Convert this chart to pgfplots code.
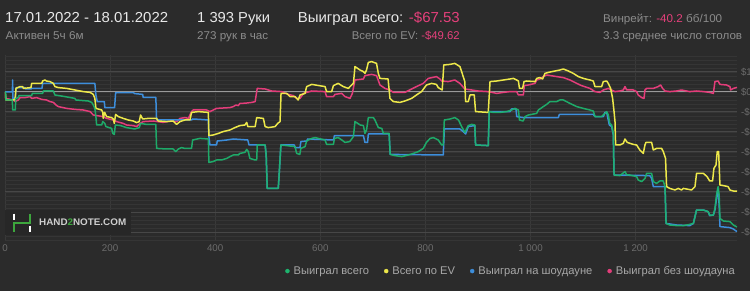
\documentclass[border=0pt]{standalone}
\usepackage{fontspec}
\setmainfont{Liberation Sans}
\usepackage{graphicx}
\usepackage{pgfplots}
\usepackage{pgfplotstable}
\pgfplotsset{compat=1.18}
\definecolor{bg}{HTML}{2B2B2B}
\definecolor{gmaj}{HTML}{474747}
\definecolor{gmin}{HTML}{353535}
\definecolor{gvert}{HTML}{393939}
\definecolor{zline}{HTML}{9A9A9A}
\definecolor{cgreen}{HTML}{1DB46E}
\definecolor{cyellow}{HTML}{EDE84A}
\definecolor{cblue}{HTML}{3D8EDB}
\definecolor{cpink}{HTML}{E33D7A}
\definecolor{ttl}{HTML}{E8E8E8}
\definecolor{sub}{HTML}{8C8C8C}
\definecolor{pinkt}{HTML}{E5407B}
\definecolor{tick}{HTML}{6C6C6C}
\definecolor{leg}{HTML}{A8A8A8}
\definecolor{logobox}{HTML}{272727}
\definecolor{logotxt}{HTML}{CFCFCF}
\definecolor{logogreen}{HTML}{3DA63D}

\pgfplotstableread{
x y
0 0
1.3 -0.2
1.9 -4
14 -4
14.6 -9
19.7 -9
20.3 -3.2
25.4 -2.8
26.6 -1.8
50.7 -1.8
52 -0.7
71.7 -0.7
73 0.5
92 0.5
95 -1.5
114 -2.3
133 -3.2
135 -4
158.5 -4.5
165 -5.2
168 -6.5
171 -8.2
173 -12.3
174.4 -16.5
184 -16.5
186 -14.8
190 -15.7
192 -17.3
203 -18.2
205 -20.7
208 -21.2
210 -16.5
220 -16.8
231 -17.8
247 -18.5
255.5 -17.8
258 -15.7
269 -16.2
287 -16.2
288.5 -28.2
307.5 -28.5
320 -28.5
325 -29.8
330 -28.5
336 -27.8
342 -28.2
355 -28.2
357 -24
371 -23.2
387 -23.5
388 -35.2
396 -34.8
402.6 -34
412 -34
422 -33.2
428 -32.3
434.5 -31.5
444 -31.5
447 -30.7
456.5 -30.2
460 -28.7
463 -29.8
466 -33.2
476 -34
479 -34
480 -26.5
495 -26.5
497 -31.5
499 -48.2
520 -48.2
521.5 -42.3
525 -26.5
552 -27.3
555 -30.7
561 -31.2
563 -28.2
571 -27.3
574 -24.5
583.6 -23.2
590 -22.8
609 -24
612 -26.2
625 -26.2
627 -23.2
634 -22.8
641 -24
647 -25.2
656 -24.8
663 -22.3
666 -14.8
676 -16.5
682 -16.8
685 -20.7
688 -19
691.4 -12.8
701 -12.8
704 -14
710.4 -17.8
717 -18.2
720 -20.7
731 -20.7
733 -31.2
742 -31.8
755 -32.3
767.5 -31.5
777 -30.7
786.5 -29.8
796 -28.2
802 -25.2
809 -23.2
815 -22.8
824.5 -24
831 -26.5
834 -26.5
836 -14
847 -13.5
856 -12.8
863 -14
869 -17.3
875 -20.2
881.6 -16.8
888 -16.2
894 -16.5
895.5 -26.5
919.6 -26.8
921.5 -9.8
929 -10.2
942 -10.2
954.7 -9.8
964 -9
970.5 -8.2
977 -9
979 -14
986 -14.5
989.6 -12.3
996 -11.5
1011.8 -10.7
1015 -9
1024.4 -7.3
1030.8 -6.2
1037 -4.8
1049.8 -4.8
1056 -4
1062.5 -4
1075 -5.7
1088 -7.3
1100.5 -8.2
1113 -9
1119.5 -9.5
1122.7 -12.3
1135 -12.3
1141.7 -10.7
1145 -9.8
1148 -11.5
1151 -15.7
1154.4 -16.5
1157.6 -20.7
1159 -41.5
1170 -41.8
1180 -39.8
1183 -41.5
1189 -41.5
1202 -42.3
1205 -44
1211.5 -44.8
1218 -43.2
1221 -40.7
1230.5 -40.7
1233.7 -44.8
1240 -45.7
1246 -44.5
1252.7 -44.5
1256 -47.3
1258 -65.7
1265 -66.5
1278 -66.8
1291 -66.8
1303 -66.2
1310 -65.7
1316 -59
1329 -59
1338 -59.8
1341 -61.5
1348 -61.5
1351 -58.2
1354 -51.5
1357 -47.3
1359 -51.5
1360.5 -63.2
1367 -64.5
1379.5 -64.8
1386 -66.5
1393 -67.53
}\greentab

\pgfplotstableread{
x y
0 0
1.9 -4
19 -4
21 1.8
28.5 2.7
33.6 2.7
35 1.8
49.5 2.2
50.7 4.3
69.8 4.3
71.7 5.5
76 6
79 5.5
85.6 5.2
92 4.3
95 2.7
101.5 2.2
117.3 1.8
133 1
149 0.2
162 -0.2
168 -1.2
171 -3.2
173 -8.2
184 -9
186 -10.2
187 -13.2
189.6 -10.2
193.4 -12.3
203 -12.8
206 -13.5
208 -15.7
210.5 -11.2
215.6 -12.3
225 -13.2
234.6 -14
244 -14.5
250.4 -15.3
255.5 -14.8
258 -11.5
262 -13.5
272.6 -13.2
288.5 -13.2
291.6 -14.5
307.5 -14.8
320 -14.5
326.5 -16.2
333 -14.8
342.4 -14
352 -14
355 -10.2
368 -9.8
387 -10.2
388 -21.8
396 -21.5
406 -20.7
415 -19.8
428 -19
437.5 -17.8
447 -16.8
456.5 -16.5
460 -15.2
462 -17.3
476 -17.3
479 -12.8
491.7 -13.2
495 -17.3
501 -17.8
514 -17.3
519 -15.7
523.4 -14.8
525.3 -0.7
536 -0.7
542.4 -2.3
552 -2.3
558 -4
561.4 -1.5
571 -0.7
574 2.7
583.6 3.8
609 2.7
612 0.2
621.6 0.2
625 3.2
634 4.3
643.8 2.7
653.4 1.8
658.4 3.2
663 4.3
666 12.7
675.5 11
682 10.2
685 9.3
688 11
691.4 14.8
697.7 15.2
707 14.3
710.4 9.3
713.6 6.8
729 6.5
732.6 -3.2
739 -4.8
751.6 -5.2
761 -4.5
773.8 -3.2
783 -1.5
792.8 0.2
802 3.5
811.8 4.3
821 3.8
824.5 2.2
832 1
835 13.5
846.7 13.8
856 14.3
865.7 12.7
870 9.3
875 5.2
876.5 -4.8
881.6 -4.8
885 -1.5
893 -1.5
895.5 -9.8
919.6 -10.2
923 5.2
935.7 5.5
948.4 6
961 6.5
967.4 6.8
973.7 6
977 5.5
979 1.8
985 1.8
987.7 5.2
992.7 5.5
1008.6 5.2
1011.8 6.8
1018 7.2
1023 6.5
1027.6 9.3
1034 9.8
1046.6 10.5
1056 11
1062.5 11.5
1072 10.5
1081.5 9.3
1091 7.7
1100.5 6.8
1113 6
1119.5 5.5
1122.7 2.7
1135.4 2.7
1138.6 5.2
1145 5.5
1148 4.3
1152.5 1.8
1156.3 -3.2
1159 -9.8
1160.8 -14.8
1162 -26.5
1170 -26.5
1176.6 -25.7
1179.8 -23.5
1184 -25.2
1195.6 -26.2
1202 -26.5
1208 -29
1214.6 -30.7
1217.8 -26.5
1219.7 -25.2
1230.5 -25.2
1233.7 -29
1240 -28.2
1249.5 -28.2
1252.7 -29.8
1257 -33.2
1259 -47.3
1265 -48.2
1275 -49
1281 -48.2
1287.5 -49
1290.7 -48.2
1297 -48.5
1306.6 -49
1313 -47.3
1316 -40.7
1329 -40.7
1336 -42.3
1341 -44.5
1346.5 -44.5
1349 -38.2
1353 -36.5
1355.4 -29.8
1358 -29.8
1359 -36.5
1360.5 -46.5
1367 -46.8
1376 -47.3
1379.5 -49
1386 -49.5
1393 -49.62
}\yellowtab

\pgfplotstableread{
x y
0 0
14 0
14.6 6
15 -3.2
19.7 -3.2
21 2.2
38 2.2
39 1.5
49.5 1.5
50.7 1.8
70.4 1.8
71.7 4.3
171 4.3
173 -1.5
175.6 -4.8
189 -4.8
190 -7.8
208.6 -7.8
210.5 -0.3
244 -0.3
247 -0.8
262 -1.2
263 -2.7
287 -2.7
288.5 -14
355 -14
357 -13.5
371 -13.7
387 -14
388 -22.3
390 -26.5
402.6 -26.5
404 -24.5
422 -24
434.5 -23.5
462 -24
464.4 -26.5
495 -26.5
497 -31.5
499 -48.2
520 -48.2
521.5 -42.3
525 -26.5
550.6 -26.5
552 -27.8
561.4 -27.8
563 -24.8
574 -24.5
576 -23.5
625 -24
627 -21.8
682 -21.8
685 -25.2
690 -25.2
691.4 -21
731 -21
733 -31.2
834 -31.5
836 -18.5
865.7 -18.5
872 -19.8
876.5 -21
881.6 -17.3
894 -16.8
895.5 -26.5
919.6 -26.8
921.5 -9.8
961 -9.8
964 -8.5
972.5 -8.5
973.7 -12.3
986.4 -12.8
1053 -12.8
1055 -11.2
1119.5 -11.2
1122.7 -12.3
1138.6 -12.3
1141.7 -10.2
1145 -10.2
1148 -14
1150 -16.5
1154.4 -17.3
1157.6 -21.5
1159 -41.5
1227 -41.8
1230.5 -43.2
1233.7 -47.3
1256 -47.3
1258 -65.7
1278 -66.5
1303 -66.8
1310 -65.7
1316 -59
1329 -59
1338 -59.8
1341 -61.8
1348 -61.5
1351 -59
1354 -53.2
1356.7 -48.2
1359 -56.5
1360.5 -67.3
1379.5 -67.8
1386 -68.5
1393 -69.8
}\bluetab

\pgfplotstableread{
x y
0 0
1.3 -3.2
16 -4
19 -4.8
25.4 -4
28.5 -2.8
38 -2.8
47.6 -2.3
50.7 -3.2
60 -2.8
70 -3.7
79 -4
85.6 -4.8
92 -5.2
97 -6.5
101.5 -7.3
117.3 -8.2
133 -8.7
149 -9
162 -9.8
168 -11.5
174.4 -11.8
187 -12.3
193.4 -13.2
206 -14
212.4 -14.8
225 -15.7
231.4 -16.5
244 -16.8
250.4 -17.3
257 -15.7
263 -14.8
282 -14.5
301 -15.2
314 -14.5
326.5 -14.8
333 -13.2
342.4 -12.8
349 -13.2
355 -9.8
358 -9
383.6 -9
390 -9.8
402.6 -8.2
428 -7.8
434.5 -7.3
439.4 -6.5
444 -6.8
447 -5.7
457 -5.6
470 -5.2
476 -4.8
480 1.8
495 1.5
507.5 0.5
526.5 0.2
539 -1.2
548.7 -1.8
555 -3.2
561.4 -3.2
568 -0.7
583.6 0.5
609 0.2
612 -2.3
625 -2.3
628 -1.2
640.7 -0.7
647 -2.3
656.5 -3.2
661 -0.7
666 6
682 6.5
685 8.2
697.7 8.8
707 8.2
713.6 3.5
723 1.8
732.6 1
739 -0.2
761 -0.2
773.8 1.5
783 2.7
796 4.3
805.5 6.8
821 7.7
827.7 6.5
831 5.5
843.5 5.2
856 6
865.7 4.3
875 1.5
888 1
900.6 0.5
919.6 0.2
935.7 -0.7
948.4 -0.2
961 0.2
973.7 0.2
977 -1.5
986.4 -1.5
988.3 3.2
996 3.5
1008.6 4.3
1011.8 6
1018 6.5
1024.4 7.7
1030.8 8.5
1049.8 7.7
1062.5 7.2
1075 6
1088 4.3
1097 3.2
1113 1.8
1122.7 0.2
1132 -0.2
1138.6 1
1148 1.8
1154.4 1
1160.8 0.2
1170 0.5
1176.6 1
1179.8 2.7
1183 1
1195.6 1
1202 0.2
1205 -1.5
1211.5 -2.8
1216 -3.2
1217.8 1
1221 1.8
1233.7 1.8
1243 2.7
1247.6 3.5
1251.4 1.8
1256 0.5
1265 0.2
1278 0.5
1287.5 1
1297 0.5
1303 0.2
1316 0.5
1329 0.2
1341 -0.2
1348 -0.7
1351 5.2
1357 5.5
1360.5 3.8
1373 3.5
1379.5 2.7
1380.7 1
1386 1.8
1393 2.3
}\pinktab

\newcommand{\ttlfont}{\fontsize{14.5}{16}\selectfont}
\newcommand{\subfont}{\fontsize{11.3}{13}\selectfont}

\begin{document}
\begin{tikzpicture}[x=1bp,y=1bp]
\path[use as bounding box] (0,0) rectangle (750,291);
\fill[bg] (0,0) rectangle (750,291);
\begin{axis}[
  at={(5bp,51bp)}, anchor=south west,
  scale only axis, width=732bp, height=185bp,
  xmin=0, xmax=1393, ymin=-74, ymax=18.5,
  axis line style={draw=none},
  major tick length=0pt, minor tick length=0pt,
  xtick={0,200,400,600,800,1000,1200},
  xticklabels={0,200,400,600,800,1 000,1 200},
  ytick={-70,-60,-50,-40,-30,-20,-10,0,10},
  yticklabels={-\$70,-\$60,-\$50,-\$40,-\$30,-\$20,-\$10,\$0,\$10},
  minor ytick={-74,-72,...,18},
  yticklabel pos=right,
  xmajorgrids, ymajorgrids, yminorgrids,
  major x grid style={gvert, line width=0.8bp},
  major y grid style={gmaj, line width=1bp},
  minor y grid style={gmin, line width=0.8bp},
  ticklabel style={font=\fontsize{9.8}{10}\selectfont, text=tick},
  xticklabel style={yshift=-1bp},
  yticklabel style={anchor=west, xshift=0.5bp},
  legend columns=4,
  legend style={draw=none, fill=none, text=leg, font=\fontsize{11.2}{12}\selectfont,
    at={(axis description cs:1.0,-0.168)}, anchor=east, inner sep=0pt,
    /tikz/every odd column/.append style={column sep=2bp},
    /tikz/every even column/.append style={column sep=13bp}},
  legend image code/.code={\fill (4bp,0bp) circle (2bp);},
  line join=round,
]
\addlegendimage{cgreen, fill=cgreen}\addlegendentry{Выиграл всего}
\addlegendimage{cyellow, fill=cyellow}\addlegendentry{Всего по EV}
\addlegendimage{cblue, fill=cblue}\addlegendentry{Выиграл на шоудауне}
\addlegendimage{cpink, fill=cpink}\addlegendentry{Выиграл без шоудауна}
\addplot[zline, line width=1bp, forget plot] coordinates {(0,0) (1393,0)};
\addplot[cpink, line width=1.5bp, forget plot] table {\pinktab};
\addplot[cblue, line width=1.5bp, forget plot] table {\bluetab};
\addplot[cyellow, line width=1.5bp, forget plot] table {\yellowtab};
\addplot[cgreen, line width=1.5bp, opacity=0.92, forget plot] table {\greentab};
\end{axis}
% logo
\fill[logobox] (5,56) rectangle (131,81);
\draw[white, line width=2.2bp] (14,77.5) -- (14,71.5);
\draw[logogreen, line width=2.2bp] (14,59.5) -- (14,68.3) -- (30,68.3) -- (30,77.5);
\draw[white, line width=2.2bp] (30,65.5) -- (30,59.5);
\node[anchor=west, inner sep=0, text=logotxt] at (39,68.3) {\resizebox{87bp}{\height}{\fontsize{9.6}{10}\selectfont\bfseries HAND{\color{logogreen}2}NOTE.COM}};
% header
\node[anchor=base west, inner sep=0, text=ttl] at (5,268.5) {\resizebox{163bp}{\height}{\ttlfont 17.01.2022 - 18.01.2022}};
\node[anchor=base west, inner sep=0, text=sub] at (5.5,251.5) {\resizebox{78bp}{\height}{\subfont Активен 5ч 6м}};
\node[anchor=base west, inner sep=0, text=ttl] at (197,268.5) {\resizebox{73bp}{\height}{\ttlfont 1 393 Руки}};
\node[anchor=base west, inner sep=0, text=sub] at (197,251.5) {\resizebox{71bp}{\height}{\subfont 273 рук в час}};
\node[anchor=base east, inner sep=0, text=ttl] at (460,268.5) {\resizebox{162bp}{\height}{\ttlfont Выиграл всего: {\color{pinkt}-\$67.53}}};
\node[anchor=base east, inner sep=0, text=sub] at (460,251.5) {\resizebox{108bp}{\height}{\subfont Всего по EV: {\color{pinkt}-\$49.62}}};
\node[anchor=base west, inner sep=0, text=sub] at (603,268.5) {\resizebox{119bp}{\height}{\subfont Винрейт: {\color{pinkt}-40.2} бб/100}};
\node[anchor=base west, inner sep=0, text=sub] at (603,251.5) {\resizebox{139bp}{\height}{\subfont 3.3 среднее число столов}};
\end{tikzpicture}
\end{document}
